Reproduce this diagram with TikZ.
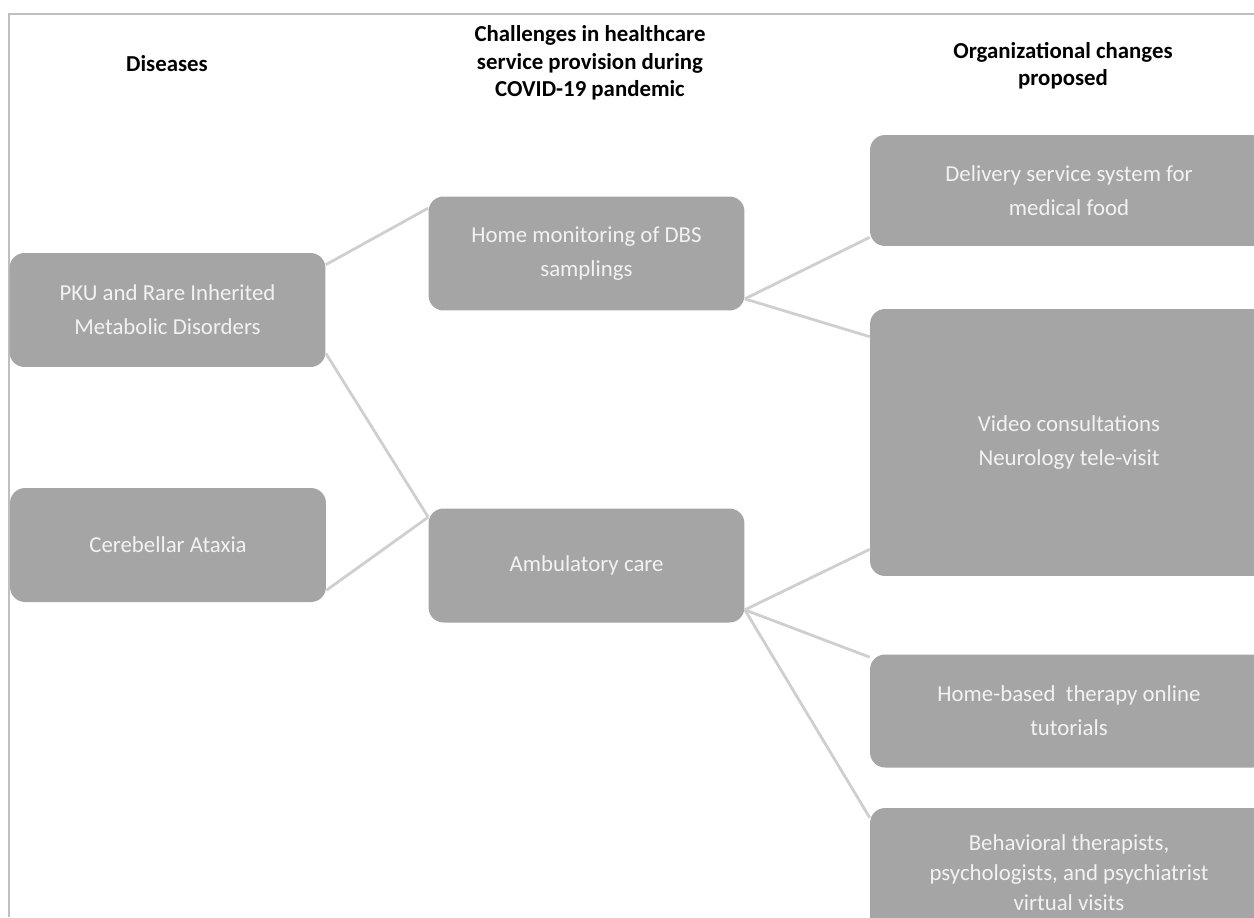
\documentclass[tikz,border=0pt]{standalone}
\usepackage{fontspec}
\setmainfont{Carlito}
\usepackage{xcolor}
\usepackage{tikz}

\definecolor{boxgray}{HTML}{A5A5A5}
\definecolor{linegray}{HTML}{CFCFCF}
\definecolor{framegray}{HTML}{BFBFBF}

\begin{document}
\begin{tikzpicture}[x=0.02cm,y=-0.02cm,
  box/.style={fill=boxgray,rounded corners=0.3cm,inner sep=0pt,align=center,
    text=white!95!black,font=\fontsize{13}{19.5}\selectfont},
  leftbox/.style={box,minimum width=6.32cm,minimum height=2.28cm},
  rightbox/.style={box,minimum width=7.96cm},
  header/.style={align=center,font=\fontsize{13}{15.5}\selectfont\bfseries},
  link/.style={draw=linegray,line width=1.6pt}]
\clip (0,0) rectangle (1254,917);
% frame
\draw[framegray,line width=1.6pt] (9,917) -- (9,14) -- (1254,14);

% column titles
\node[header] (hdis) at (167,64) {Diseases};
\node[header] (hchal) at (590,63) {Challenges in healthcare\\service provision during\\COVID-19 pandemic};
\node[header] (horg) at (1063,66) {Organizational changes\\proposed};

% diseases
\node[leftbox] (pku) at (167.5,310) {PKU and Rare Inherited\\Metabolic Disorders};
\node[leftbox] (ataxia) at (168,545) {Cerebellar Ataxia};

% challenges
\node[leftbox] (dbs) at (586.5,253.5) {Home monitoring of DBS\\samplings};
\node[leftbox] (amb) at (586.5,565.5) {Ambulatory care};

% proposed changes
\node[rightbox,minimum height=2.22cm] (food) at (1069,190.5) {Delivery service system for\\medical food};
\node[rightbox,minimum height=5.34cm] (video) at (1069,442.5) {Video consultations\\Neurology tele-visit};
\node[rightbox,minimum height=2.26cm] (tutor) at (1069,711) {Home-based\ \ therapy online\\tutorials};
\node[rightbox,minimum height=2.6cm,font=\fontsize{13}{17}\selectfont] (visits) at (1069,873) {Behavioral therapists,\\psychologists, and psychiatrist\\virtual visits};

% connectors
\draw[link] ([yshift=-0.24cm]pku.north east) -- ([yshift=-0.24cm]dbs.north west);
\draw[link] ([yshift=0.28cm]pku.south east) -- ([yshift=-0.18cm]amb.north west);
\draw[link] ([yshift=0.24cm]ataxia.south east) -- ([yshift=-0.18cm]amb.north west);
\draw[link] ([yshift=0.24cm]dbs.south east) -- ([yshift=0.18cm]food.south west);
\draw[link] ([yshift=0.24cm]dbs.south east) -- ([yshift=-0.56cm]video.north west);
\draw[link] ([yshift=0.26cm]amb.south east) -- ([yshift=0.54cm]video.south west);
\draw[link] ([yshift=0.26cm]amb.south east) -- ([yshift=-0.06cm]tutor.north west);
\draw[link] ([yshift=0.26cm]amb.south east) -- ([yshift=-0.2cm]visits.north west);
\end{tikzpicture}
\end{document}
